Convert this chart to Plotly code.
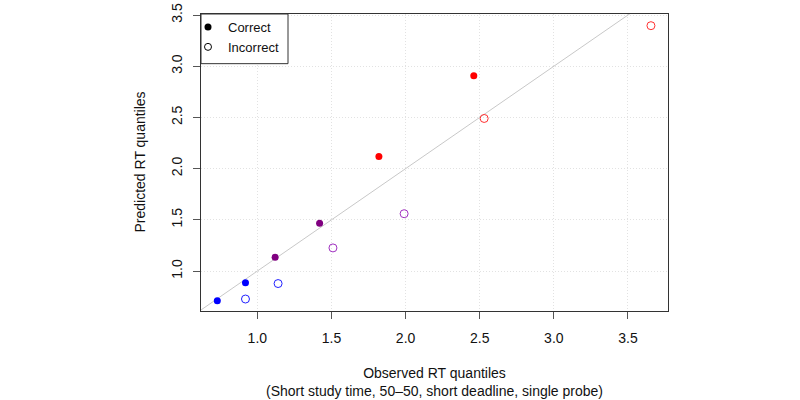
import plotly.graph_objects as go

# Data
correct_obs = [0.73, 0.92, 1.12, 1.42, 1.82, 2.46]
correct_pred = [0.71, 0.885, 1.135, 1.468, 2.118, 2.907]
incorrect_obs = [0.92, 1.14, 1.51, 1.99, 2.53, 3.655]
incorrect_pred = [0.727, 0.878, 1.226, 1.56, 2.49, 3.396]
tick_vals = [1.0, 1.5, 2.0, 2.5, 3.0, 3.5]
tick_text = ["1.0", "1.5", "2.0", "2.5", "3.0", "3.5"]
x_title = "Observed RT quantiles<br>(Short study time, 50–50, short deadline, single probe)"
y_title = "Predicted RT quantiles"

# Styles
point_colors = ["#0000FF", "#0000FF", "#800080", "#800080", "#FF0000", "#FF0000"]
open_colors = ["#2020FF", "#2020FF", "#A030C0", "#A030C0", "#FF3030", "#FF3030"]
FONT = "Liberation Sans, Arial, Helvetica, sans-serif"

fig = go.Figure()

# identity line
fig.add_trace(go.Scatter(x=[0, 5], y=[0, 5], mode="lines",
                         line=dict(color="#C8C8C8", width=1),
                         showlegend=False, hoverinfo="skip"))

fig.add_trace(go.Scatter(x=correct_obs, y=correct_pred, mode="markers",
                         marker=dict(symbol="circle", size=7, color=point_colors,
                                     line=dict(width=0)),
                         showlegend=False))
fig.add_trace(go.Scatter(x=incorrect_obs, y=incorrect_pred, mode="markers",
                         marker=dict(symbol="circle-open", size=8, color=open_colors,
                                     line=dict(width=1)),
                         showlegend=False))

# legend entries
fig.add_trace(go.Scatter(x=[None], y=[None], mode="markers", name="Correct",
                         marker=dict(symbol="circle", size=7, color="black")))
fig.add_trace(go.Scatter(x=[None], y=[None], mode="markers", name="Incorrect",
                         marker=dict(symbol="circle-open", size=7, color="black",
                                     line=dict(width=1))))

axis_common = dict(
    tickvals=tick_vals, ticktext=tick_text,
    showline=True, mirror=True, linecolor="#333333", linewidth=1,
    ticks="outside", ticklen=7, tickcolor="#555555", tickwidth=1,
    showgrid=True, gridcolor="#E2E2E2", griddash="1px,2px", gridwidth=1,
    zeroline=False, automargin=False,
    tickfont=dict(family=FONT, size=14, color="#111111"),
)

PLOT_W = 800 - 201 - 132
PLOT_H = 400 - 12 - 89

fig.update_layout(
    width=800, height=400,
    margin=dict(l=201, r=132, t=12, b=89),
    paper_bgcolor="white", plot_bgcolor="white",
    font=dict(family=FONT, size=14, color="#111111"),
    xaxis=dict(range=[0.62, 3.77], ticklabelstandoff=7, **axis_common),
    yaxis=dict(range=[0.61, 3.51], tickangle=-90, ticklabelstandoff=5, **axis_common),
    legend=dict(x=-13 / PLOT_W, y=1 + 2 / PLOT_H, xanchor="left", yanchor="top",
                bgcolor="rgba(0,0,0,0)", borderwidth=0,
                font=dict(family=FONT, size=13), itemwidth=30,
                tracegroupgap=0),
    showlegend=True,
    shapes=[dict(type="rect", xref="paper", yref="paper",
                 x0=0, x1=87 / PLOT_W, y0=1 - 50 / PLOT_H, y1=1,
                 line=dict(color="#333333", width=1), fillcolor="white",
                 layer="above")],
    annotations=[
        dict(text=x_title, xref="paper", yref="paper", x=0.5, y=0,
             xanchor="center", yanchor="top", yshift=-52, showarrow=False,
             font=dict(family=FONT, size=14, color="#111111")),
        dict(text=y_title, xref="paper", yref="paper", x=0, y=0.5,
             xanchor="right", yanchor="middle", xshift=-52, textangle=-90,
             showarrow=False, font=dict(family=FONT, size=14, color="#111111")),
    ],
)

fig.write_html("out.html")
